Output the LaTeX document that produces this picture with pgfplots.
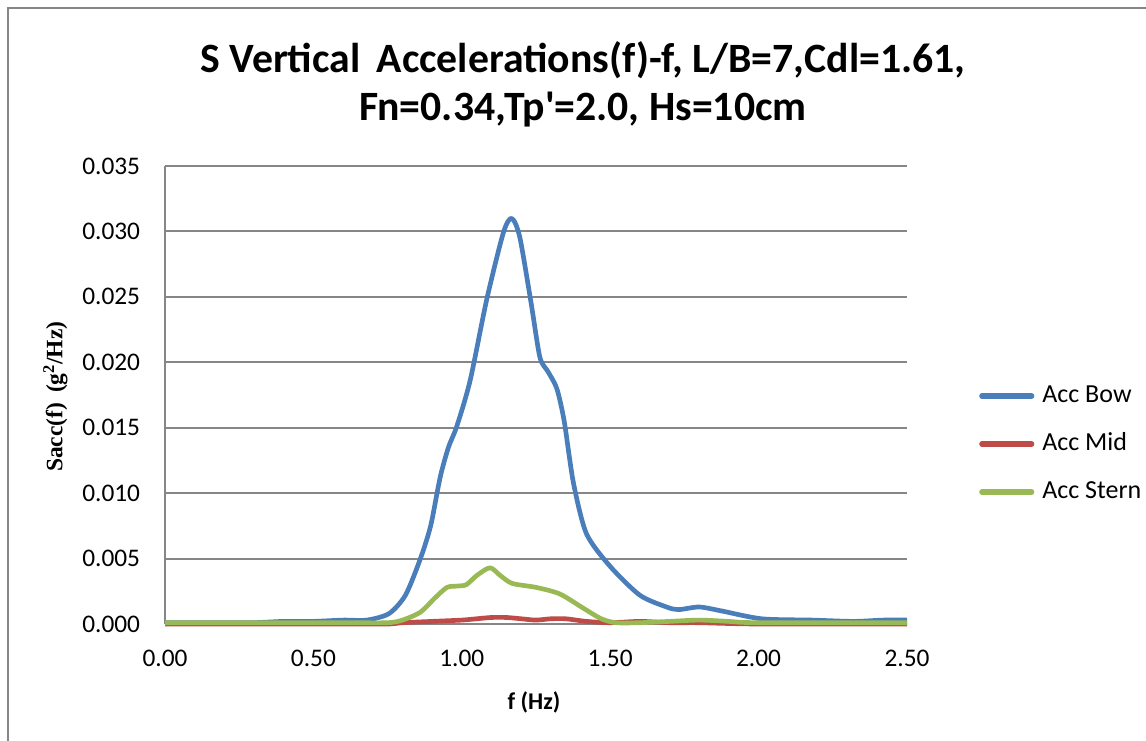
\documentclass[border=0pt]{standalone}
\usepackage{pgfplots}
\pgfplotsset{compat=1.18}
\usepackage{fontspec}
\setmainfont{Carlito}
\newfontfamily\serifb{Liberation Serif}
\definecolor{cblue}{HTML}{4A7EBB}
\definecolor{cred}{HTML}{BE4B48}
\definecolor{cgreen}{HTML}{98B954}
\definecolor{cgrid}{HTML}{868686}
\begin{document}
\begin{tikzpicture}
\path[use as bounding box] (0pt,0pt) rectangle (859.5pt,-555pt);
\draw[cgrid,line width=1.5pt] (6pt,-560pt) -- (6pt,-6pt) -- (865pt,-6pt);
\node[font=\fontsize{31.3}{36}\selectfont\bfseries] at (437.25pt,-45pt) {S Vertical\, Accelerations(f)-f, L/B=7,Cdl=1.61,};
\node[font=\fontsize{31.3}{36}\selectfont\bfseries] at (437.25pt,-82pt) {Fn=0.34,Tp\textquotesingle=2.0, Hs=10cm};
\node[rotate=90,font=\fontsize{17.6}{21}\selectfont\serifb\bfseries] at (41.5pt,-297.5pt) {Sacc(f)\, (g\textsuperscript{2}/Hz)};
\node[font=\fontsize{18}{22}\selectfont\bfseries] at (400.5pt,-526.5pt) {f (Hz)};
\begin{axis}[
  at={(123.75pt,-468pt)}, anchor=south west,
  width=556.5pt, height=343.5pt, scale only axis,
  xmin=0, xmax=2.5, ymin=0, ymax=0.035,
  xtick={0,0.5,1,1.5,2,2.5},
  ytick={0,0.005,0.01,0.015,0.02,0.025,0.03,0.035},
  scaled y ticks=false, scaled x ticks=false,
  axis x line*=bottom, axis y line*=left,
  axis line style={cgrid,line width=1.5pt},
  x axis line style={-}, y axis line style={-},
  major tick length=0pt,
  ymajorgrids, grid style={cgrid,line width=1.5pt},
  /pgf/number format/assume math mode=true,
  xticklabel style={/pgf/number format/fixed,/pgf/number format/fixed zerofill,/pgf/number format/precision=2},
  yticklabel style={/pgf/number format/fixed,/pgf/number format/fixed zerofill,/pgf/number format/precision=3},
  ticklabel style={font=\fontsize{19}{22}\selectfont},
  xticklabel style={inner sep=0pt, yshift=-19pt},
  yticklabel style={inner sep=0pt, xshift=-18.5pt},
  clip=false,
  legend style={at={(1.0916,0.393)}, anchor=west, draw=none, fill=none,
    font=\fontsize{19.5}{22}\selectfont, row sep=19pt,
    nodes={inner sep=0pt, text height=13pt, text depth=4pt},
    /tikz/every odd column/.append style={column sep=6pt}},
  legend cell align=left,
  legend image code/.code={\draw[#1,line cap=round,line width=3.8pt] (0pt,0pt) -- (37.5pt,0pt);},
  every axis plot/.append style={line width=3.5pt, smooth, tension=0.45, line join=round},
]
\addplot[cblue] coordinates {
(0.00,0.0001) (0.10,0.0001) (0.20,0.0001) (0.30,0.0001) (0.40,0.0002) (0.50,0.0002)
(0.60,0.0003) (0.68,0.0003) (0.755,0.0008) (0.81,0.0022) (0.859,0.0049) (0.895,0.0075)
(0.927,0.0112) (0.955,0.0135) (0.983,0.0151) (1.028,0.0186) (1.084,0.0248) (1.14,0.0299)
(1.168,0.0310) (1.195,0.0296) (1.233,0.0246) (1.263,0.0204) (1.29,0.0193) (1.32,0.0180)
(1.345,0.0155) (1.376,0.0108) (1.42,0.0069) (1.5,0.0044) (1.6,0.0022) (1.69,0.0013)
(1.73,0.0011) (1.80,0.0013) (1.875,0.0010) (2.01,0.0004) (2.18,0.0003) (2.32,0.0002)
(2.42,0.0003) (2.50,0.0003)
};
\addlegendentry{Acc Bow}
\addplot[cred] coordinates {
(0,0) (0.3,0) (0.6,0) (0.75,0) (0.8,0.0001) (0.9,0.0002) (1.0,0.0003) (1.05,0.0004)
(1.1,0.0005) (1.15,0.0005) (1.2,0.0004) (1.25,0.0003) (1.3,0.0004) (1.35,0.0004)
(1.42,0.0002) (1.5,0.0001) (1.6,0.0002) (1.7,0.0001) (1.8,0.0001) (2.0,0.0) (2.5,0.0)
};
\addlegendentry{Acc Mid}
\addplot[cgreen] coordinates {
(0,0.0001) (0.3,0.0001) (0.6,0.0001) (0.75,0.0001) (0.80,0.0003) (0.86,0.0009)
(0.91,0.0020) (0.95,0.0028) (0.985,0.0029) (1.015,0.0030) (1.05,0.0037) (1.095,0.0043)
(1.13,0.0037) (1.17,0.0031) (1.25,0.0028) (1.33,0.0023) (1.41,0.0012) (1.47,0.0004)
(1.52,0.0001) (1.6,0.0001) (1.7,0.0002) (1.8,0.0003) (1.9,0.0002) (2.0,0.0001) (2.5,0.0001)
};
\addlegendentry{Acc Stern}
\end{axis}
\end{tikzpicture}
\end{document}
